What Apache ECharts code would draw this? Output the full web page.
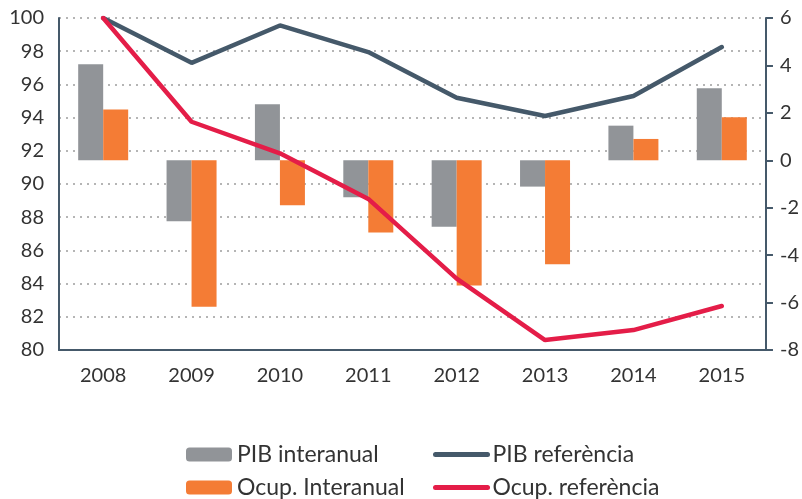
<!DOCTYPE html>
<html>
<head>
<meta charset="utf-8">
<script src="https://cdn.jsdelivr.net/npm/echarts@6/dist/echarts.min.js"></script>
<style>
  html, body { margin: 0; padding: 0; background: #fff; }
  #chart { width: 802px; height: 499px; }
</style>
</head>
<body>
<div id="chart"></div>
<script>
var years = ['2008', '2009', '2010', '2011', '2012', '2013', '2014', '2015'];
// barres, eix dret
var pibInteranual = [4.05, -2.57, 2.36, -1.56, -2.80, -1.11, 1.46, 3.04];
var ocupInteranual = [2.14, -6.18, -1.90, -3.04, -5.28, -4.38, 0.90, 1.82];
// linies, eix esquerre (2008 = 100)
var pibReferencia = [100, 97.3, 99.55, 97.95, 95.2, 94.1, 95.3, 98.25];
var ocupReferencia = [100, 93.75, 91.85, 89.1, 84.3, 80.6, 81.2, 82.65];

var axisColor = '#45596a';
var font = 'Lato';

var chart = echarts.init(document.getElementById('chart'));
var option = {
  animation: false,
  textStyle: { fontFamily: font },
  grid: { left: 59, right: 35, top: 18, bottom: 149, containLabel: false },
  legend: [
    {
      left: 186, top: 443, orient: 'vertical', padding: 0, height: 60,
      itemWidth: 46, itemHeight: 14, itemGap: 10,
      textStyle: { fontSize: 23, color: '#333', fontFamily: font },
      data: ['PIB interanual', 'Ocup. Interanual']
    },
    {
      left: 433, top: 443, orient: 'vertical', padding: 0, height: 60,
      itemWidth: 52, itemHeight: 14, itemGap: 10,
      itemStyle: { opacity: 0 },
      lineStyle: { width: 5, cap: 'round' },
      textStyle: { fontSize: 23, color: '#333', fontFamily: font },
      data: ['PIB referència', 'Ocup. referència']
    }
  ],
  xAxis: {
    type: 'category',
    data: years,
    axisLine: { onZero: false, lineStyle: { color: axisColor, width: 2 } },
    axisTick: { show: false },
    axisLabel: { fontSize: 20, color: '#333', margin: 16 }
  },
  yAxis: [
    {
      type: 'value', min: 80, max: 100, interval: 2,
      axisLine: { show: true, lineStyle: { color: axisColor, width: 2 } },
      axisTick: { show: false },
      axisLabel: { fontSize: 20, color: '#333', margin: 15 },
      splitLine: { show: true, lineStyle: { color: '#b5b5b5', width: 2, type: [2, 5] } }
    },
    {
      type: 'value', min: -8, max: 6, interval: 2,
      axisLine: { show: true, lineStyle: { color: axisColor, width: 2 } },
      axisTick: { show: true, length: 7, lineStyle: { color: axisColor, width: 2 } },
      axisLabel: { fontSize: 20, color: '#333', margin: 14 },
      splitLine: { show: false }
    }
  ],
  series: [
    {
      name: 'PIB interanual', type: 'bar', yAxisIndex: 1,
      barWidth: 25, barGap: '0%',
      itemStyle: { color: '#919498' },
      data: pibInteranual
    },
    {
      name: 'Ocup. Interanual', type: 'bar', yAxisIndex: 1,
      barWidth: 25, barGap: '0%',
      itemStyle: { color: '#f47c35' },
      data: ocupInteranual
    },
    {
      name: 'PIB referència', type: 'line', yAxisIndex: 0,
      symbol: 'none',
      lineStyle: { color: '#45596a', width: 4.5, cap: 'round' },
      itemStyle: { color: '#45596a' },
      data: pibReferencia
    },
    {
      name: 'Ocup. referència', type: 'line', yAxisIndex: 0,
      symbol: 'none',
      lineStyle: { color: '#e41d48', width: 4.5, cap: 'round' },
      itemStyle: { color: '#e41d48' },
      data: ocupReferencia
    }
  ]
};
chart.setOption(option);
</script>
</body>
</html>
